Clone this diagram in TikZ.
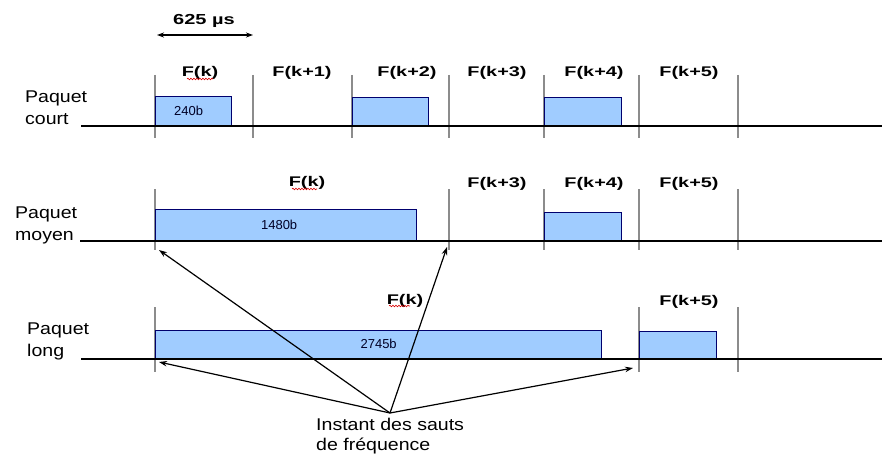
\documentclass[tikz,border=0pt]{standalone}
\usepackage{fontspec}
\setmainfont{Liberation Sans}
\usetikzlibrary{arrows.meta,decorations.pathmorphing}

% horizontal stretch helpers for the wide, screen-style lettering
\newcommand{\slotwide}[1]{\scalebox{1.42}[1]{#1}}
\newcommand{\lblwide}[1]{\scalebox{1.15}[1]{#1}}
\newcommand{\durwide}[1]{\scalebox{1.38}[1]{#1}}

\definecolor{pktfill}{RGB}{160,204,255}
\definecolor{pktedge}{RGB}{0,0,110}
\definecolor{tickgray}{RGB}{140,140,140}

\tikzset{
  slotlabel/.style={font=\fontsize{14}{16}\selectfont\bfseries, inner sep=0},
  rowlabel/.style={font=\fontsize{17}{21.5}\selectfont, align=left, inner sep=0, anchor=north west},
  pkt/.style={draw=pktedge, line width=1.3pt, fill=pktfill, anchor=south west,
              font=\fontsize{13}{15}\selectfont, text=black!85!blue, inner sep=0},
  slottick/.style={draw=tickgray, line width=1.3pt},
  timeline/.style={draw=black, line width=2.6pt},
  jumparrow/.style={draw=black, line width=1.2pt, -{Stealth[length=8pt,width=5.5pt]}},
  spell/.style={draw=red!85!black, line width=0.6pt,
                decorate, decoration={snake, segment length=3pt, amplitude=0.8pt}},
}

\begin{document}
\begin{tikzpicture}[x=1pt,y=-1pt]
\useasboundingbox[fill=white] (0,0) rectangle (882,457);

% ---- slot duration -------------------------------------------------
\node[slotlabel, font=\fontsize{14.5}{16}\selectfont\bfseries] (dur) at (204,21) {\durwide{625 µs}};
\coordinate (durL) at (157,35);
\coordinate (durR) at (253,35);
\draw[line width=1.2pt, {Stealth[length=7pt,width=5pt]}-{Stealth[length=7pt,width=5pt]}] (durL) -- (durR);

% ---- short packet ---------------------------------------------------
\foreach \x in {155,253,352,449,544,639,738}
  \draw[slottick] (\x,75) -- (\x,138);
\node[pkt, minimum width=76pt, minimum height=29pt] (p240) at (155,126) {\hspace*{-10pt}240b};
\node[pkt, minimum width=76pt, minimum height=28pt] (p1k2) at (352,126) {};
\node[pkt, minimum width=77pt, minimum height=28pt] (p1k4) at (544,126) {};
\draw[timeline] (81,126) -- (882,126);
\node[rowlabel] (lcourt) at (25,91) {\lblwide{Paquet}\\\lblwide{court}};

\node[slotlabel] (s1k0) at (200,73) {\slotwide{F(k)}};
\node[slotlabel] (s1k1) at (302,73) {\slotwide{F(k+1)}};
\node[slotlabel] (s1k2) at (407,73) {\slotwide{F(k+2)}};
\node[slotlabel] (s1k3) at (497,73) {\slotwide{F(k+3)}};
\node[slotlabel] (s1k4) at (594,73) {\slotwide{F(k+4)}};
\node[slotlabel] (s1k5) at (689,73) {\slotwide{F(k+5)}};
\draw[spell] (187,79) -- (213,79);

% ---- medium packet --------------------------------------------------
\foreach \x in {155,449,544,639,738}
  \draw[slottick] (\x,189) -- (\x,250);
\node[pkt, minimum width=261pt, minimum height=31pt] (p1480) at (155,241) {\hspace*{-14pt}1480b};
\node[pkt, minimum width=77pt, minimum height=28pt] (p2k4) at (544,241) {};
\draw[timeline] (80,241) -- (882,241);
\node[rowlabel] (lmoyen) at (15,207) {\lblwide{Paquet}\\\lblwide{moyen}};

\node[slotlabel] (s2k0) at (307,183) {\slotwide{F(k)}};
\node[slotlabel] (s2k3) at (497,184) {\slotwide{F(k+3)}};
\node[slotlabel] (s2k4) at (594,184) {\slotwide{F(k+4)}};
\node[slotlabel] (s2k5) at (689,184) {\slotwide{F(k+5)}};
\draw[spell] (292,189) -- (317,189);

% ---- long packet ----------------------------------------------------
\foreach \x in {155,639,738}
  \draw[slottick] (\x,307) -- (\x,372);
\node[pkt, minimum width=446pt, minimum height=28pt] (p2745) at (155,359) {2745b};
\node[pkt, minimum width=77pt, minimum height=27pt] (p3k5) at (639,359) {};
\draw[timeline, line width=2.2pt] (81,359) -- (882,359);
\node[rowlabel] (llong) at (27,323) {\lblwide{Paquet}\\\lblwide{long}};

\node[slotlabel] (s3k0) at (405,301) {\slotwide{F(k)}};
\node[slotlabel] (s3k5) at (689,302) {\slotwide{F(k+5)}};
\draw[spell] (389,306) -- (410,306);

% ---- hop instants ---------------------------------------------------
\node[rowlabel, font=\fontsize{17}{20}\selectfont] (hops) at (316,418)
  {\lblwide{Instant des sauts}\\\lblwide{de fréquence}};
\coordinate (hop) at (390,413);
\coordinate (hmA) at (159,250);
\coordinate (hmB) at (447,247);
\coordinate (hlA) at (159,362);
\coordinate (hlB) at (633,368);
\draw[jumparrow] (hop) -- (hmA);
\draw[jumparrow] (hop) -- (hmB);
\draw[jumparrow] (hop) -- (hlA);
\draw[jumparrow] (hop) -- (hlB);
\end{tikzpicture}
\end{document}
